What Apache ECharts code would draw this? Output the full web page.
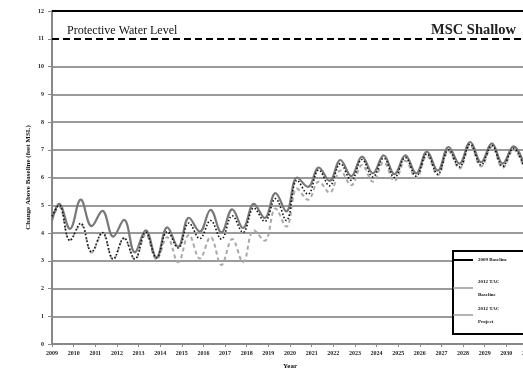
<!DOCTYPE html>
<html>
<head>
<meta charset="utf-8">
<script src="https://cdn.jsdelivr.net/npm/echarts@6/dist/echarts.min.js"></script>
<style>
html,body{margin:0;padding:0;background:#fff;}
#chart{width:523px;height:372px;}
</style>
</head>
<body>
<div id="chart"></div>
<script>
// Sample times (decimal years): start, then seasonal high / low of each year
const sampleYears = [2009.00,
  2009.33, 2009.83, 2010.33, 2010.83, 2011.33, 2011.83, 2012.33, 2012.83,
  2013.33, 2013.83, 2014.33, 2014.83, 2015.33, 2015.83, 2016.33, 2016.83,
  2017.33, 2017.83, 2018.33, 2018.83, 2019.33, 2019.83, 2020.33, 2020.83,
  2021.33, 2021.83, 2022.33, 2022.83, 2023.33, 2023.83, 2024.33, 2024.83,
  2025.33, 2025.83, 2026.33, 2026.83, 2027.33, 2027.83, 2028.33, 2028.83,
  2029.33, 2029.83, 2030.33, 2030.83];

const baseline2009 = [4.45,
  5.05, 4.15, 5.20, 4.25, 4.80, 3.87, 4.47, 3.30,
  4.10, 3.12, 4.20, 3.50, 4.55, 4.05, 4.83, 4.02,
  4.85, 4.18, 5.05, 4.54, 5.44, 4.78, 6.00, 5.66,
  6.36, 5.88, 6.63, 6.05, 6.75, 6.15, 6.80, 6.12,
  6.80, 6.15, 6.93, 6.25, 7.10, 6.50, 7.28, 6.55,
  7.23, 6.50, 7.12, 6.45];

const tac2012Baseline = [4.60,
  5.00, 3.73, 4.35, 3.32, 4.02, 3.06, 3.82, 3.06,
  4.03, 3.10, 4.05, 3.46, 4.36, 3.80, 4.45, 3.78,
  4.62, 4.02, 4.90, 4.42, 5.24, 4.45, 5.90, 5.40,
  6.27, 5.70, 6.50, 5.90, 6.65, 6.02, 6.70, 6.00,
  6.72, 6.05, 6.85, 6.12, 7.00, 6.38, 7.20, 6.45,
  7.15, 6.40, 7.05, 6.35];

const tac2012Project = [4.50,
  4.95, 3.75, 4.30, 3.30, 4.00, 3.05, 3.80, 3.05,
  3.95, 3.05, 3.85, 2.95, 3.93, 3.08, 3.85, 2.85,
  3.78, 2.95, 4.10, 3.72, 4.88, 4.23, 5.60, 5.20,
  5.85, 5.45, 6.25, 5.72, 6.45, 5.85, 6.55, 5.88,
  6.60, 5.98, 6.78, 6.08, 6.95, 6.32, 7.15, 6.40,
  7.10, 6.35, 7.00, 6.30];

const seriesNames = ['2009 Baseline', '2012 TAC Baseline', '2012 TAC Project'];
const legendLabels = ['2009 Baseline', '2012 TAC\nBaseline', '2012 TAC\nProject'];
const protectiveLevel = 11;
const protectiveLabel = 'Protective Water Level';
const topLevel = 12;
const chartTitle = 'MSC Shallow';
const yAxisTitle = 'Change Above Baseline (feet MSL)';
const xAxisTitle = 'Year';

const FONT = 'Liberation Serif';
const pair = (vals) => sampleYears.map((t, i) => [t, vals[i]]);

const gridColors = [];
for (let i = 0; i <= 12; i++) gridColors.push(i === 11 ? 'rgba(0,0,0,0)' : (i === 12 ? '#000' : '#9a9a9a'));

const legendColors = ['#000', '#999', '#999'];
const legendTops = [253.5, 275, 302];
const legends = seriesNames.map((n, i) => ({
  orient: 'vertical', left: 453, top: legendTops[i], padding: 0,
  itemWidth: 20, itemHeight: i === 0 ? 2 : 1.5, z: 5, selectedMode: false,
  icon: 'rect',
  data: [{name: n, itemStyle: {color: legendColors[i]}}],
  formatter: name => legendLabels[seriesNames.indexOf(name)],
  textStyle: {fontFamily: FONT, fontSize: 5, fontWeight: 'bold', color: '#111', lineHeight: 13}
}));

const chart = echarts.init(document.getElementById('chart'), null, {renderer: 'canvas'});
chart.setOption({
  animation: false,
  backgroundColor: '#fff',
  title: {
    text: chartTitle, right: 2, top: 18,
    textStyle: {fontFamily: FONT, fontSize: 14.5, fontWeight: 'bold', color: '#222'}
  },
  grid: {left: 52, top: 11, width: 476, height: 333, containLabel: false, outerBoundsMode: 'none'},
  xAxis: {
    type: 'value', min: 2009, max: 2031, interval: 1,
    name: xAxisTitle, nameLocation: 'middle', nameGap: 19,
    nameTextStyle: {fontFamily: FONT, fontSize: 7, fontWeight: 'bold', color: '#111'},
    axisLine: {show: true, lineStyle: {color: '#888', width: 2}},
    axisTick: {show: true, length: 3, lineStyle: {color: '#888', width: 1}},
    axisLabel: {fontFamily: FONT, fontSize: 6, fontWeight: 'bold', color: '#222', margin: 6,
      formatter: v => String(v)},
    splitLine: {show: false}
  },
  yAxis: {
    type: 'value', min: 0, max: 12, interval: 1,
    name: yAxisTitle, nameLocation: 'middle', nameGap: 20, nameRotate: 90,
    nameMoveOverlap: false,
    nameTextStyle: {fontFamily: FONT, fontSize: 7, fontWeight: 'bold', color: '#111'},
    axisLine: {show: true, lineStyle: {color: '#888', width: 2}},
    axisTick: {show: true, length: 4, lineStyle: {color: '#888', width: 1}},
    axisLabel: {fontFamily: FONT, fontSize: 6, fontWeight: 'bold', color: '#222', margin: 8},
    splitLine: {show: true, lineStyle: {color: gridColors, width: 2}}
  },
  legend: legends,
  graphic: [{
    type: 'rect', z: 3, silent: true,
    shape: {x: 453, y: 251, width: 90, height: 83},
    style: {fill: '#fff', stroke: '#000', lineWidth: 2}
  }],
  series: [
    {
      name: seriesNames[0], type: 'line', data: pair(baseline2009),
      smooth: 0.4, symbol: 'none', showSymbol: false, z: 2,
      lineStyle: {color: '#787878', width: 2.2, type: 'solid'},
      itemStyle: {color: '#787878'},
      markLine: {
        silent: true, symbol: ['none', 'none'],
        data: [
          {yAxis: protectiveLevel,
           lineStyle: {color: '#000', width: 2, type: [7, 4]},
           label: {show: true, position: 'insideStartTop', formatter: protectiveLabel,
                   distance: [15, 2],
                   fontFamily: FONT, fontSize: 12, color: '#111'}},
          {yAxis: topLevel,
           lineStyle: {color: '#000', width: 2, type: 'solid'},
           label: {show: false}}
        ]
      }
    },
    {
      name: seriesNames[1], type: 'line', data: pair(tac2012Baseline),
      smooth: 0.4, symbol: 'none', showSymbol: false, z: 3,
      lineStyle: {color: '#111', width: 1.6, type: [1.5, 2]},
      itemStyle: {color: '#111'}
    },
    {
      name: seriesNames[2], type: 'line', data: pair(tac2012Project),
      smooth: 0.4, symbol: 'none', showSymbol: false, z: 1,
      lineStyle: {color: '#a8a8a8', width: 2, type: [4, 3]},
      itemStyle: {color: '#a8a8a8'}
    }
  ]
});
</script>
</body>
</html>
